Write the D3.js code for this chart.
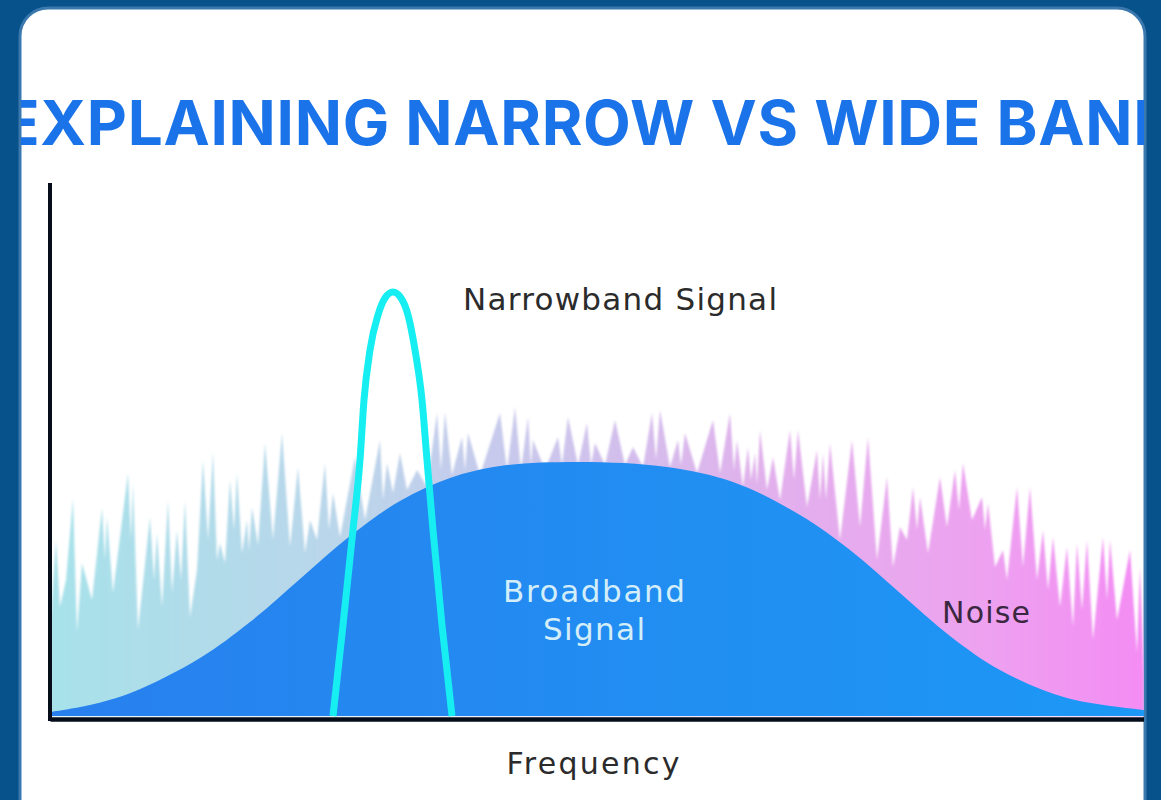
<!DOCTYPE html>
<html>
<head>
<meta charset="utf-8">
<script src="https://cdn.jsdelivr.net/npm/d3@7"></script>
<style>
    body {
        margin: 0;
        background: #07528b;
    }
    svg {
        display: block;
    }
</style>
</head>
<body>
<svg id="bandChart"></svg>
<script>
    // values (frequency / level in arbitrary units)
    let titleText = "EXPLAINING NARROW VS WIDE BAND";
    let axisLabel = "Frequency";
    let narrowName = "Narrowband Signal";
    let broadName = ["Broadband", "Signal"];
    let noiseName = "Noise";

    let noiseSeries = [
        [1,100],[6,176],[10,109],[16,136],[23,218],[27,83],[32,153],[42,116],[52,208],[55,156],
        [57,199],[63,123],[78,243],[81,176],[83,233],[88,86],[100,199],[104,136],[107,183],[112,109],
        [118,216],[122,123],[127,186],[131,136],[135,216],[140,99],[147,146],[153,256],[158,176],[163,264],
        [167,156],[170,173],[175,153],[180,236],[184,186],[187,243],[192,163],[197,196],[199,166],[202,209],
        [208,171],[215,273],[223,176],[232,283],[240,169],[248,249],[255,163],[260,196],[267,176],[275,253],
        [279,186],[283,223],[290,179],[305,259],[315,196],[330,276],[333,216],[337,253],[343,223],[350,263],
        [357,226],[367,246],[377,229],[387,303],[391,246],[395,304],[402,241],[412,279],[415,246],[418,283],
        [430,241],[450,303],[457,246],[465,309],[471,246],[478,299],[481,251],[483,276],[495,246],[508,279],
        [512,251],[518,299],[528,251],[537,293],[541,251],[545,273],[555,251],[565,296],[575,251],[583,269],
        [593,249],[602,303],[606,256],[610,306],[620,249],[628,276],[631,251],[635,283],[647,243],[663,296],
        [670,243],[680,303],[684,246],[687,276],[693,229],[698,269],[701,236],[705,263],[707,231],[710,286],
        [717,226],[723,259],[730,216],[740,286],[744,236],[748,286],[757,209],[767,266],[770,216],[773,263],
        [776,216],[780,273],[790,176],[802,276],[810,189],[818,279],[827,156],[837,239],[843,149],[850,189],
        [857,176],[863,229],[867,186],[870,219],[878,163],[890,239],[897,189],[905,246],[909,206],[913,253],
        [922,196],[932,219],[935,186],[938,213],[945,149],[953,166],[957,136],[967,229],[973,149],[980,229],
        [987,136],[993,186],[998,126],[1003,179],[1010,109],[1017,169],[1023,89],[1027,173],[1032,106],[1037,176],
        [1043,76],[1053,179],[1057,116],[1060,176],[1067,96],[1080,166],[1087,63],[1090,149],[1094,43]
    ];

    let broadFreq  = [0, 40, 83, 150, 200, 250, 300, 350, 400, 450, 530, 617, 683, 750, 800, 850, 900, 950, 1017, 1094];
    let broadLevel = [4, 11, 24, 58, 94, 137, 180, 215, 238, 250, 254, 249, 234, 201, 166, 123, 80, 46, 18, 6];

    let narrowFreq  = [283, 293, 303, 310, 314, 320, 328, 335, 343, 351, 358, 365, 372, 377, 383, 392, 402];
    let narrowLevel = [0, 91, 186, 256, 316, 366, 401, 418, 424, 418, 401, 366, 316, 256, 186, 91, 0];

    function getConfig() {
        let width = 1161;
        let height = 800;
        let plot = { left: 50, right: 1144, top: 183, bottom: 716 };
        let container = d3.select("#bandChart")
            .attr("width", width)
            .attr("height", height);
        return { width, height, plot, container };
    }

    function getScales(config) {
        let { plot } = config;
        let xScale = d3.scaleLinear()
            .domain([0, 1094])
            .range([plot.left, plot.right]);
        let yScale = d3.scaleLinear()
            .domain([0, 533])
            .range([plot.bottom, plot.top]);
        return { xScale, yScale };
    }

    function drawDefs(config) {
        let defs = config.container.append("defs");

        defs.append("clipPath").attr("id", "cardClip")
            .append("rect")
            .attr("x", 21).attr("y", 9)
            .attr("width", 1123).attr("height", 830)
            .attr("rx", 27);

        let noiseGrad = defs.append("linearGradient")
            .attr("id", "noiseGrad")
            .attr("x1", "0%").attr("x2", "100%");
        [["0%", "#a7e2ea"], ["28%", "#bbd5ea"], ["45%", "#cbc6ec"], ["65%", "#e1b1ec"], ["85%", "#eda2f0"], ["100%", "#f48cf4"]]
            .forEach(s => noiseGrad.append("stop").attr("offset", s[0]).attr("stop-color", s[1]));

        let broadGrad = defs.append("linearGradient")
            .attr("id", "broadGrad")
            .attr("x1", "0%").attr("x2", "100%");
        [["0%", "#2880ee"], ["100%", "#1c98f5"]]
            .forEach(s => broadGrad.append("stop").attr("offset", s[0]).attr("stop-color", s[1]));

        defs.append("filter").attr("id", "soft")
            .append("feGaussianBlur").attr("stdDeviation", 0.9);
    }

    function drawCard(config) {
        config.container.append("rect")
            .attr("x", 20).attr("y", 8)
            .attr("width", 1125).attr("height", 840)
            .attr("rx", 28)
            .attr("fill", "white")
            .attr("stroke", "#3a78ae")
            .attr("stroke-width", 3);
    }

    function drawSeries(body, scales) {
        let { xScale, yScale } = scales;

        let noiseArea = d3.area()
            .x(d => xScale(d[0]))
            .y0(yScale(0))
            .y1(d => yScale(d[1]));
        body.append("path")
            .datum(noiseSeries)
            .attr("d", noiseArea)
            .attr("fill", "url(#noiseGrad)")
            .attr("filter", "url(#soft)");

        let broadData = broadFreq.map((f, i) => ({ f, v: broadLevel[i] }));
        let broadArea = d3.area()
            .curve(d3.curveCatmullRom.alpha(0.5))
            .x(d => xScale(d.f))
            .y0(yScale(0))
            .y1(d => yScale(d.v));
        body.append("path")
            .datum(broadData)
            .attr("d", broadArea)
            .attr("fill", "url(#broadGrad)");

        let narrowData = narrowFreq.map((f, i) => ({ f, v: narrowLevel[i] }));
        let narrowLine = d3.line()
            .curve(d3.curveMonotoneX)
            .x(d => xScale(d.f))
            .y(d => yScale(d.v));
        body.append("path")
            .datum(narrowData)
            .attr("d", narrowLine)
            .attr("fill", "none")
            .attr("stroke", "#16eef2")
            .attr("stroke-width", 7);
    }

    function drawAxes(body, scales, config) {
        let { xScale, yScale } = scales;
        let { plot } = config;

        let axisX = d3.axisBottom(xScale).tickValues([]).tickSizeOuter(0);
        let gx = body.append("g")
            .attr("transform", `translate(0,${plot.bottom + 3})`)
            .call(axisX);
        gx.select(".domain")
            .attr("stroke", "#050d1a")
            .attr("stroke-width", 4.5);

        let axisY = d3.axisLeft(yScale).tickValues([]).tickSizeOuter(0);
        let gy = body.append("g")
            .attr("transform", `translate(${plot.left},0)`)
            .call(axisY);
        gy.select(".domain")
            .attr("stroke", "#050d1a")
            .attr("stroke-width", 4)
            .attr("d", `M0,${plot.top}V${plot.bottom + 5}`);
    }

    function drawTexts(body) {
        let font = "'DejaVu Sans', 'Noto Sans', sans-serif";

        body.append("text")
            .attr("x", 590).attr("y", 145)
            .attr("text-anchor", "middle")
            .attr("textLength", 1176)
            .attr("lengthAdjust", "spacing")
            .style("font-family", "Inter, 'Noto Sans', sans-serif")
            .style("font-weight", 700)
            .style("font-size", "62px")
            .style("fill", "#1a73e8")
            .text(titleText);

        body.append("text")
            .attr("x", 463).attr("y", 310)
            .attr("textLength", 314)
            .attr("lengthAdjust", "spacing")
            .style("font-family", font)
            .style("font-size", "31px")
            .style("fill", "#2b2b2b")
            .text(narrowName);

        body.selectAll(".broadLabel")
            .data(broadName)
            .enter().append("text")
            .attr("class", "broadLabel")
            .attr("x", 594)
            .attr("y", (d, i) => 602 + i * 38)
            .attr("text-anchor", "middle")
            .attr("textLength", (d, i) => i == 0 ? 182 : 102)
            .attr("lengthAdjust", "spacing")
            .style("font-family", font)
            .style("font-size", "31px")
            .style("fill", "#d4eef9")
            .text(d => d);

        body.append("text")
            .attr("x", 942).attr("y", 623)
            .attr("textLength", 88)
            .attr("lengthAdjust", "spacing")
            .style("font-family", font)
            .style("font-size", "30px")
            .style("fill", "#3a2840")
            .text(noiseName);

        body.append("text")
            .attr("x", 593).attr("y", 774)
            .attr("text-anchor", "middle")
            .attr("textLength", 173)
            .attr("lengthAdjust", "spacing")
            .style("font-family", font)
            .style("font-size", "30px")
            .style("fill", "#2b2b2b")
            .text(axisLabel);
    }

    function drawChart() {
        let config = getConfig();
        let scales = getScales(config);
        drawDefs(config);
        drawCard(config);
        let body = config.container.append("g").attr("clip-path", "url(#cardClip)");
        drawSeries(body, scales);
        drawAxes(body, scales, config);
        drawTexts(body);
    }

    drawChart();
</script>
</body>
</html>
